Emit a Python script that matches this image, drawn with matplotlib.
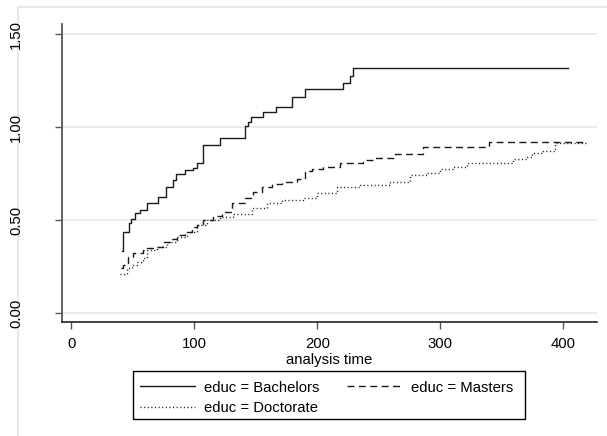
import matplotlib
matplotlib.use("Agg")
import matplotlib.pyplot as plt
from matplotlib.lines import Line2D
from matplotlib.patches import Rectangle

plt.rcParams['font.family'] = ['Liberation Sans', 'DejaVu Sans']
plt.rcParams['lines.scale_dashes'] = False

# Nelson-Aalen cumulative hazard estimates
bach_t = [41, 42.3, 47, 48.5, 52, 55.8, 61.3, 70.7, 77, 83, 85, 92.4, 99, 102,
          106.8, 121.2, 141.2, 143.4, 145.8, 156.1, 166.4, 179.2, 190, 220.6,
          226.6, 229.3, 403.6]
bach_h = [0.333, 0.437, 0.482, 0.504, 0.536, 0.554, 0.59, 0.625, 0.676, 0.715,
          0.747, 0.767, 0.778, 0.808, 0.903, 0.941, 1.005, 1.029, 1.055, 1.079,
          1.109, 1.163, 1.203, 1.238, 1.274, 1.316, 1.316]

mast_t = [40.4, 42.3, 46.3, 50.4, 58.5, 61.3, 69.4, 74.8, 80.2, 85.7, 92.4,
          97.9, 102, 107.3, 115.4, 122.3, 130.4, 141.2, 148, 154.8, 162.9,
          171.1, 183.3, 190, 195.4, 204.9, 218.5, 237.4, 245.5, 263.2, 286.2,
          339.8, 416.3]
mast_h = [0.24, 0.26, 0.303, 0.321, 0.339, 0.347, 0.356, 0.383, 0.40, 0.419,
          0.437, 0.46, 0.473, 0.50, 0.521, 0.545, 0.59, 0.617, 0.652, 0.679,
          0.692, 0.703, 0.719, 0.765, 0.774, 0.787, 0.805, 0.821, 0.832, 0.855,
          0.89, 0.921, 0.921]

doct_t = [39.6, 45, 49.1, 53.2, 58.5, 61.3, 69.4, 77.6, 85.7, 93.8, 102,
          110.1, 120.9, 131.7, 146.7, 158.9, 171.1, 188.6, 199.5, 215.8, 234.7,
          259.1, 275.4, 288.9, 299.8, 310.6, 321.5, 359.3, 370.2, 374.3, 383.7,
          393.3, 420.3]
doct_h = [0.21, 0.24, 0.258, 0.276, 0.294, 0.339, 0.356, 0.383, 0.41, 0.437,
          0.473, 0.50, 0.515, 0.535, 0.563, 0.59, 0.608, 0.617, 0.644, 0.676,
          0.69, 0.706, 0.74, 0.751, 0.775, 0.783, 0.805, 0.826, 0.84, 0.859,
          0.873, 0.912, 0.912]

x_ticks = [0, 100, 200, 300, 400]
y_ticks = [0.0, 0.5, 1.0, 1.5]
y_tick_labels = ['0.00', '0.50', '1.00', '1.50']
labels = ['educ = Bachelors', 'educ = Masters', 'educ = Doctorate']
x_label = 'analysis time'

W, H = 607, 436
fig = plt.figure(figsize=(W / 100, H / 100), dpi=100)
fig.patch.set_facecolor('white')

# light outer frame (behind everything)
fig.add_artist(Line2D([18.3 / W, 1.0], [1 - 6.7 / H, 1 - 6.7 / H],
                      transform=fig.transFigure, color='#e8e8e8', lw=1.5,
                      zorder=-5))
fig.add_artist(Line2D([18.3 / W, 18.3 / W], [0, 1 - 6.7 / H],
                      transform=fig.transFigure, color='#e8e8e8', lw=1.5,
                      zorder=-5))

ax = fig.add_axes([62 / W, 1 - 322 / H, (597 - 62) / W, (322 - 24) / H])
ax.set_xlim(-7.56, 427.4)
ax.set_ylim(-0.0484, 1.554)
ax.patch.set_alpha(0)

lc = '#1a1a1a'
l1, = ax.step(bach_t, bach_h, where='post', color=lc, lw=1.0, ls='-')
l2, = ax.step(mast_t, mast_h, where='post', color=lc, lw=1.0,
              dashes=(5.0, 3.2))
l3, = ax.step(doct_t, doct_h, where='post', color=lc, lw=1.0,
              dashes=(0.8, 1.8))

for s in ['top', 'right']:
    ax.spines[s].set_visible(False)
ax.spines['left'].set_color('#555555')
ax.spines['left'].set_linewidth(1.3)
ax.spines['bottom'].set_color('#222222')
ax.spines['bottom'].set_linewidth(1.2)

ax.set_yticks(y_ticks)
ax.set_yticklabels(y_tick_labels, rotation=90, va='center')
ax.set_xticks(x_ticks)
ax.set_xticklabels([str(v) for v in x_ticks])
ax.tick_params(axis='y', length=5, width=1, color='#555555', pad=23,
               labelsize=10.7)
ax.tick_params(axis='x', length=5, width=1, color='#555555', pad=6,
               labelsize=10.7)
ax.yaxis.grid(True, color='#e8e8e8', lw=1.2)
ax.set_axisbelow(True)
ax.set_xlabel(x_label, fontsize=10.7, labelpad=1)

# legend content (frameless) plus a separately drawn box
leg = fig.legend([l1, l3, l2], [labels[0], labels[2], labels[1]], ncol=2,
                 loc='upper left', bbox_to_anchor=(140 / W, 1 - 380.5 / H),
                 fontsize=10.7, frameon=False, handlelength=3.7,
                 handletextpad=0.6, borderpad=0, labelspacing=0.42,
                 columnspacing=1.85, borderaxespad=0)
fig.add_artist(Rectangle((133.3 / W, 1 - 419.3 / H), (525.3 - 133.3) / W,
                         (419.3 - 371) / H, transform=fig.transFigure,
                         fill=False, edgecolor='black', lw=1.0))

fig.savefig('out.png', dpi=100, facecolor='white')
